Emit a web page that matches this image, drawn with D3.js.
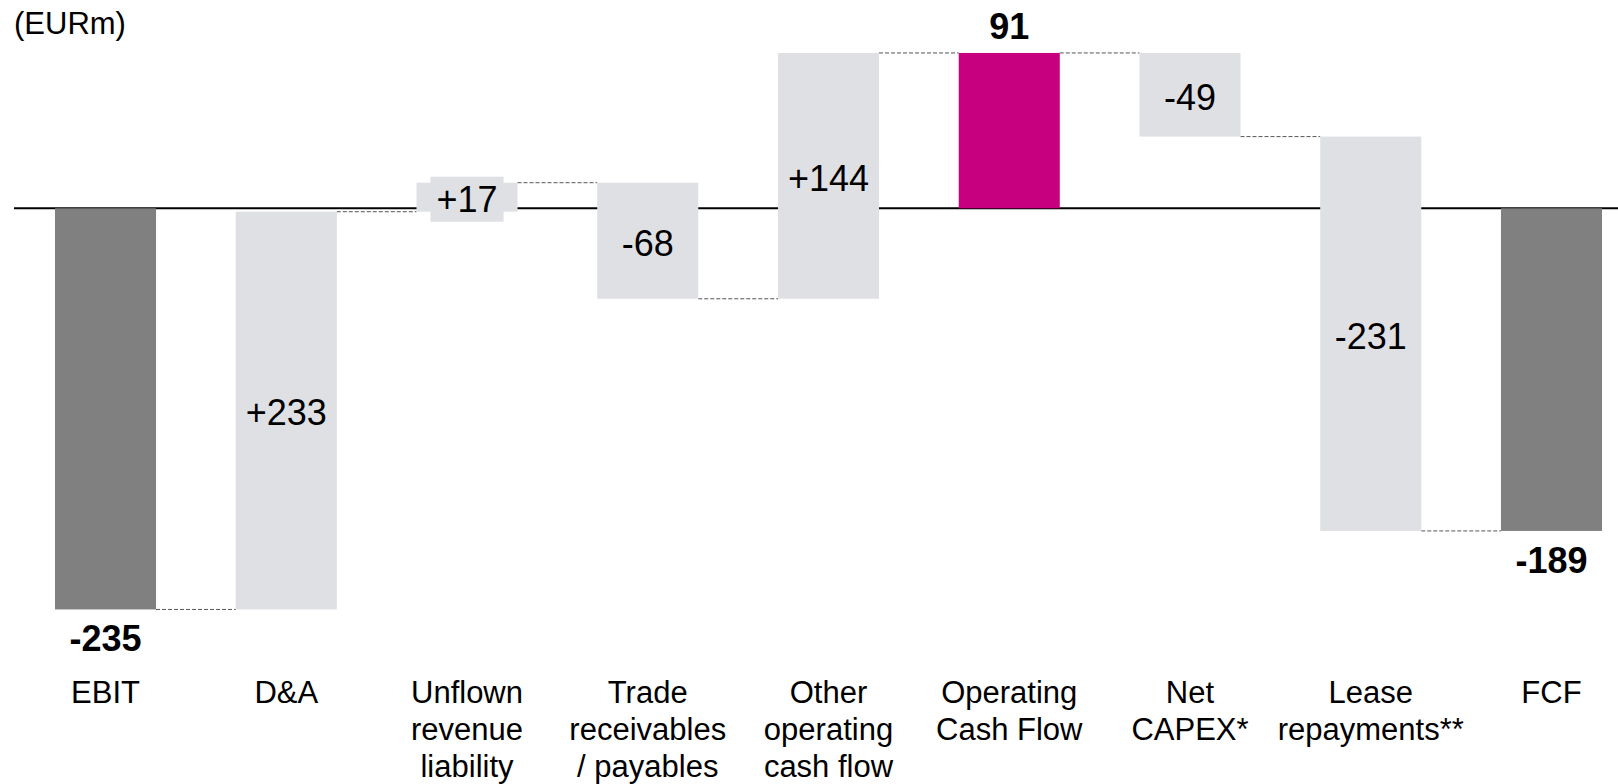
<!DOCTYPE html>
<html>
<head>
<meta charset="utf-8">
<script src="https://cdn.jsdelivr.net/npm/d3@7"></script>
<style>
  html, body { margin: 0; padding: 0; background: #fff; }
  svg { display: block; font-family: "Liberation Sans", Arial, Helvetica, sans-serif; }
</style>
</head>
<body>
<svg id="chart" width="1618" height="784"></svg>
<script>
// Cash flow bridge, EBIT to free cash flow (EURm)
const categories = [
  ["EBIT"],
  ["D&A"],
  ["Unflown", "revenue", "liability"],
  ["Trade", "receivables", "/ payables"],
  ["Other", "operating", "cash flow"],
  ["Operating", "Cash Flow"],
  ["Net", "CAPEX*"],
  ["Lease", "repayments**"],
  ["FCF"]
];
const values = [-235, 233, 17, -68, 144, 91, -49, -231, -189];
const kinds = ["total", "delta", "delta", "delta", "delta", "subtotal", "delta", "delta", "total"];
const valueLabels = ["-235", "+233", "+17", "-68", "+144", "91", "-49", "-231", "-189"];
const unitLabel = "(EURm)";

const colors = { total: "#808080", subtotal: "#C6007E", delta: "#DFE0E4" };

// Running totals for the bridge steps
let running = 0;
const steps = values.map((v, i) => {
  let start, end;
  if (kinds[i] === "delta") { start = running; end = running + v; }
  else { start = 0; end = v; }
  running = end;
  return { i, key: String(i), value: v, start, end, kind: kinds[i], label: valueLabels[i], cat: categories[i] };
});

const svg = d3.select("#chart");

const x = d3.scaleBand()
  .domain(steps.map(d => d.key))
  .range([55, 1602])
  .paddingInner(0.441)
  .paddingOuter(0);

const y = d3.scaleLinear()
  .domain([-250, 100])
  .range([208.3 + 250 * 1.707, 208.3 - 100 * 1.707]);

// Unit caption
svg.append("text")
  .attr("x", 14)
  .attr("y", 34)
  .attr("font-size", 31)
  .attr("fill", "#000")
  .text(unitLabel);

// Zero baseline (behind the bars)
svg.append("line")
  .attr("x1", 14).attr("x2", 1618)
  .attr("y1", y(0)).attr("y2", y(0))
  .attr("stroke", "#000")
  .attr("stroke-width", 2);

// Dashed connectors between consecutive bars
const links = steps.slice(0, -1).map((d, k) => ({ from: d, to: steps[k + 1], level: d.end }));
svg.append("g")
  .selectAll("line")
  .data(links)
  .join("line")
  .attr("x1", d => x(d.from.key) + x.bandwidth())
  .attr("x2", d => x(d.to.key))
  .attr("y1", d => y(d.level))
  .attr("y2", d => y(d.level))
  .attr("stroke", "#555")
  .attr("stroke-width", 1)
  .attr("stroke-dasharray", "4,2");

// Bars
svg.append("g")
  .selectAll("rect")
  .data(steps)
  .join("rect")
  .attr("x", d => x(d.key))
  .attr("width", x.bandwidth())
  .attr("y", d => y(Math.max(d.start, d.end)))
  .attr("height", d => Math.abs(y(d.start) - y(d.end)))
  .attr("fill", d => colors[d.kind]);

// Value labels
const labelG = svg.append("g");
steps.forEach(d => {
  const cx = x(d.key) + x.bandwidth() / 2;
  if (d.kind === "delta") {
    const mid = (y(d.start) + y(d.end)) / 2;
    const fs = 36;
    const g = labelG.append("g");
    const bg = g.append("rect").attr("fill", colors.delta);
    const t = g.append("text")
      .attr("x", cx)
      .attr("y", mid + 0.358 * fs + 2)
      .attr("text-anchor", "middle")
      .attr("font-size", fs)
      .attr("fill", "#000")
      .text(d.label);
    const w = t.node().getComputedTextLength();
    bg.attr("x", cx - w / 2 - 6)
      .attr("width", w + 12)
      .attr("y", mid + 2 - 22.5)
      .attr("height", 45);
  } else {
    const fs = 36;
    const top = d.end >= 0;
    labelG.append("text")
      .attr("x", cx)
      .attr("y", top ? y(d.end) - 14 : y(d.end) + 42)
      .attr("text-anchor", "middle")
      .attr("font-size", fs)
      .attr("font-weight", "bold")
      .attr("fill", "#000")
      .text(d.label);
  }
});

// Category labels
const catG = svg.append("g");
steps.forEach(d => {
  const t = catG.append("text")
    .attr("x", x(d.key) + x.bandwidth() / 2)
    .attr("y", 703)
    .attr("text-anchor", "middle")
    .attr("font-size", 31)
    .attr("fill", "#000");
  d.cat.forEach((line, j) => {
    t.append("tspan")
      .attr("x", x(d.key) + x.bandwidth() / 2)
      .attr("dy", j === 0 ? 0 : 37)
      .text(line);
  });
});
</script>
</body>
</html>
